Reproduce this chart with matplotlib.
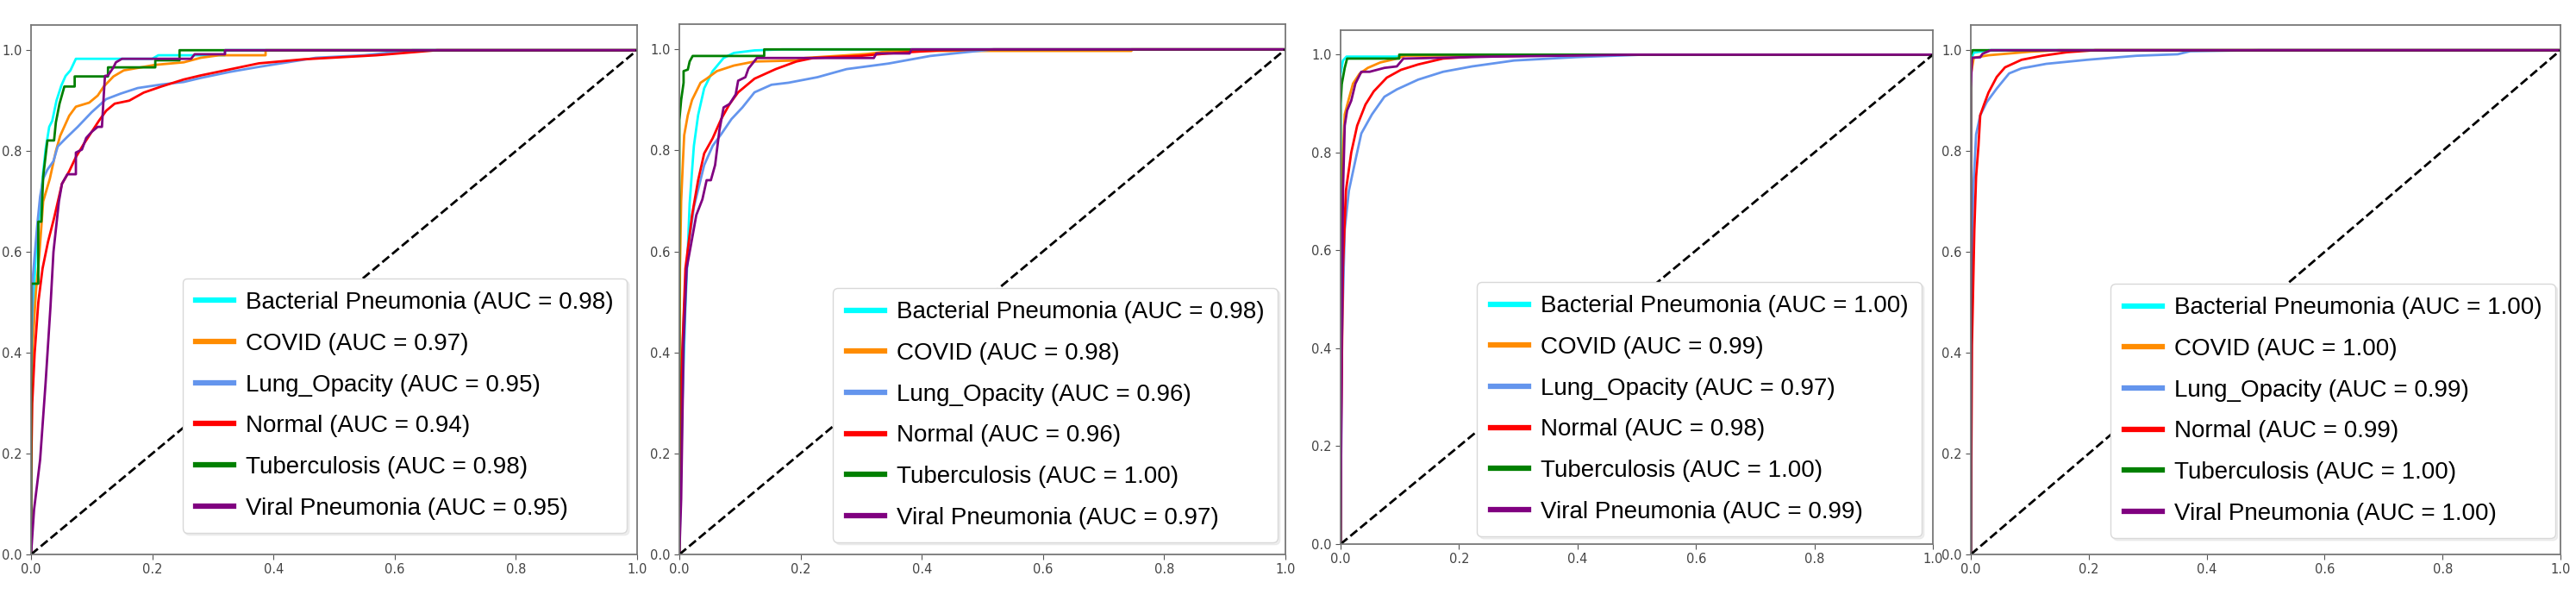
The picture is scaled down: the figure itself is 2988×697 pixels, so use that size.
import matplotlib
matplotlib.use("Agg")
import matplotlib.pyplot as plt
from matplotlib import font_manager

classes = ["Bacterial Pneumonia", "COVID", "Lung_Opacity", "Normal",
           "Tuberculosis", "Viral Pneumonia"]
colors = ["aqua", "darkorange", "cornflowerblue", "red", "green", "purple"]

# AUC per panel
p1_auc = [0.98, 0.97, 0.95, 0.94, 0.98, 0.95]
p2_auc = [0.98, 0.98, 0.96, 0.96, 1.00, 0.97]
p3_auc = [1.00, 0.99, 0.97, 0.98, 1.00, 0.99]
p4_auc = [1.00, 1.00, 0.99, 0.99, 1.00, 1.00]

# ROC points (fpr, tpr)
p1_bact = [(0, 0), (0, 0.3), (0.002, 0.45), (0.008, 0.6), (0.02, 0.757), (0.024, 0.803),
           (0.03, 0.848), (0.035, 0.86), (0.042, 0.9), (0.05, 0.93), (0.057, 0.949),
           (0.065, 0.96), (0.074, 0.983), (0.2, 0.983), (0.21, 0.99), (0.32, 0.99),
           (0.32, 1.0), (1, 1)]
p1_covid = [(0, 0), (0, 0.3), (0.003, 0.42), (0.008, 0.52), (0.014, 0.6), (0.02, 0.7),
            (0.031, 0.745), (0.041, 0.8), (0.048, 0.83), (0.063, 0.87), (0.074, 0.888),
            (0.096, 0.896), (0.11, 0.91), (0.12, 0.928), (0.136, 0.948), (0.153, 0.96),
            (0.205, 0.971), (0.252, 0.976), (0.28, 0.985), (0.31, 0.99), (0.387, 0.99),
            (0.387, 1.0), (1, 1)]
p1_lung = [(0, 0), (0, 0.35), (0.003, 0.55), (0.01, 0.65), (0.015, 0.71), (0.02, 0.745),
           (0.027, 0.763), (0.037, 0.78), (0.044, 0.809), (0.058, 0.826), (0.077, 0.848),
           (0.1, 0.877), (0.124, 0.903), (0.148, 0.914), (0.176, 0.925), (0.215, 0.932),
           (0.252, 0.937), (0.28, 0.945), (0.328, 0.957), (0.376, 0.967), (0.47, 0.985),
           (0.55, 0.99), (0.63, 1.0), (1, 1)]
p1_normal = [(0, 0), (0, 0.15), (0.002, 0.3), (0.006, 0.4), (0.012, 0.5), (0.019, 0.567),
             (0.028, 0.62), (0.038, 0.667), (0.051, 0.735), (0.063, 0.76), (0.074, 0.788),
             (0.087, 0.814), (0.1, 0.838), (0.112, 0.86), (0.124, 0.88), (0.138, 0.894),
             (0.162, 0.9), (0.186, 0.916), (0.215, 0.928), (0.252, 0.942), (0.28, 0.95),
             (0.328, 0.962), (0.376, 0.974), (0.45, 0.982), (0.57, 0.99), (0.67, 1.0), (1, 1)]
p1_tb = [(0, 0), (0, 0.537), (0.012, 0.537), (0.012, 0.66), (0.017, 0.66), (0.02, 0.749),
         (0.027, 0.821), (0.038, 0.821), (0.041, 0.857), (0.047, 0.894), (0.055, 0.928),
         (0.072, 0.928), (0.072, 0.948), (0.127, 0.948), (0.127, 0.966), (0.205, 0.966),
         (0.205, 0.98), (0.245, 0.98), (0.245, 1.0), (1, 1)]
p1_viral = [(0, 0), (0.005, 0.089), (0.015, 0.188), (0.024, 0.34), (0.032, 0.49),
            (0.037, 0.6), (0.046, 0.7), (0.051, 0.735), (0.06, 0.754), (0.074, 0.754),
            (0.074, 0.797), (0.084, 0.803), (0.091, 0.826), (0.1, 0.838), (0.11, 0.848),
            (0.117, 0.848), (0.12, 0.911), (0.122, 0.949), (0.127, 0.95), (0.136, 0.966),
            (0.14, 0.976), (0.15, 0.983), (0.264, 0.983), (0.27, 0.992), (0.32, 0.992),
            (0.32, 1.0), (1, 1)]

p2_bact = [(0, 0), (0.005, 0.3), (0.01, 0.49), (0.014, 0.604), (0.017, 0.695), (0.024, 0.809),
           (0.031, 0.87), (0.041, 0.923), (0.055, 0.957), (0.073, 0.983), (0.09, 0.993),
           (0.124, 0.998), (0.17, 1.0), (1, 1)]
p2_covid = [(0, 0), (0, 0.19), (0.001, 0.566), (0.003, 0.7), (0.006, 0.78), (0.008, 0.83),
            (0.014, 0.87), (0.021, 0.9), (0.035, 0.934), (0.045, 0.942), (0.062, 0.957),
            (0.09, 0.968), (0.124, 0.976), (0.193, 0.978), (0.207, 0.983), (0.31, 0.991),
            (0.35, 0.997), (0.746, 0.997), (0.746, 1.0), (1, 1)]
p2_lung = [(0, 0), (0, 0.11), (0.003, 0.34), (0.008, 0.49), (0.014, 0.6), (0.024, 0.688),
           (0.041, 0.771), (0.055, 0.809), (0.069, 0.832), (0.086, 0.862), (0.104, 0.885),
           (0.124, 0.915), (0.152, 0.93), (0.18, 0.934), (0.228, 0.945), (0.276, 0.961),
           (0.345, 0.972), (0.414, 0.987), (0.477, 0.995), (0.518, 1.0), (1, 1)]
p2_normal = [(0, 0), (0, 0.11), (0.003, 0.34), (0.01, 0.566), (0.021, 0.672), (0.031, 0.741),
             (0.041, 0.794), (0.055, 0.824), (0.069, 0.862), (0.083, 0.892), (0.097, 0.915),
             (0.124, 0.942), (0.159, 0.961), (0.193, 0.976), (0.221, 0.983), (0.297, 0.987),
             (0.345, 0.992), (0.428, 0.998), (0.52, 1.0), (1, 1)]
p2_tb = [(0, 0), (0, 0.86), (0.003, 0.9), (0.007, 0.934), (0.007, 0.957), (0.014, 0.96),
         (0.017, 0.976), (0.022, 0.987), (0.14, 0.987), (0.14, 1.0), (1, 1)]
p2_viral = [(0, 0), (0.003, 0.11), (0.007, 0.415), (0.012, 0.566), (0.019, 0.612),
            (0.028, 0.672), (0.038, 0.703), (0.045, 0.741), (0.052, 0.741), (0.059, 0.771),
            (0.066, 0.839), (0.073, 0.885), (0.083, 0.892), (0.093, 0.911), (0.097, 0.938),
            (0.109, 0.945), (0.114, 0.962), (0.128, 0.983), (0.321, 0.983), (0.325, 0.992),
            (0.38, 0.992), (0.383, 1.0), (1, 1)]

p3_bact = [(0, 0), (0, 0.96), (0.004, 0.988), (0.01, 0.996), (0.1, 0.996), (0.1, 1.0), (1, 1)]
p3_covid = [(0, 0), (0, 0.6), (0.004, 0.8), (0.007, 0.878), (0.014, 0.91), (0.021, 0.941),
            (0.032, 0.961), (0.046, 0.973), (0.067, 0.984), (0.095, 0.992), (0.109, 0.998),
            (0.49, 1.0), (1, 1)]
p3_lung = [(0, 0), (0.002, 0.408), (0.007, 0.643), (0.014, 0.722), (0.025, 0.784),
           (0.035, 0.839), (0.053, 0.878), (0.074, 0.914), (0.095, 0.929), (0.131, 0.949),
           (0.173, 0.965), (0.222, 0.976), (0.293, 0.988), (0.399, 0.995), (0.512, 1.0), (1, 1)]
p3_normal = [(0, 0), (0.001, 0.25), (0.004, 0.565), (0.009, 0.722), (0.018, 0.8),
             (0.028, 0.855), (0.042, 0.898), (0.056, 0.925), (0.078, 0.953), (0.102, 0.969),
             (0.131, 0.98), (0.173, 0.992), (0.222, 0.996), (0.328, 0.998), (0.434, 1.0), (1, 1)]
p3_tb = [(0, 0), (0, 0.9), (0.002, 0.94), (0.007, 0.973), (0.011, 0.992), (0.099, 0.992),
         (0.099, 1.0), (1, 1)]
p3_viral = [(0, 0), (0.002, 0.408), (0.004, 0.72), (0.007, 0.855), (0.011, 0.886),
            (0.018, 0.906), (0.025, 0.941), (0.035, 0.965), (0.049, 0.965), (0.074, 0.973),
            (0.095, 0.976), (0.106, 0.992), (0.258, 0.996), (0.378, 0.998), (0.49, 1.0), (1, 1)]

p4_bact = [(0, 0), (0, 0.98), (0.005, 0.995), (0.03, 1.0), (1, 1)]
p4_covid = [(0, 0), (0, 0.95), (0.005, 0.985), (0.03, 0.99), (0.1, 0.997), (0.15, 1.0), (1, 1)]
p4_lung = [(0, 0), (0.001, 0.491), (0.004, 0.719), (0.009, 0.833), (0.016, 0.871),
           (0.027, 0.897), (0.044, 0.924), (0.065, 0.954), (0.086, 0.964), (0.128, 0.973),
           (0.197, 0.981), (0.281, 0.989), (0.351, 0.992), (0.372, 0.998), (0.49, 1.0), (1, 1)]
p4_normal = [(0, 0), (0.002, 0.415), (0.006, 0.643), (0.009, 0.749), (0.013, 0.81),
             (0.016, 0.871), (0.023, 0.894), (0.03, 0.916), (0.044, 0.947), (0.058, 0.966),
             (0.086, 0.981), (0.121, 0.989), (0.163, 0.996), (0.211, 1.0), (1, 1)]
p4_tb = [(0, 0), (0, 0.99), (0.003, 1.0), (1, 1)]
p4_viral = [(0, 0), (0, 0.924), (0.002, 0.985), (0.016, 0.986), (0.02, 0.993),
            (0.034, 1.0), (1, 1)]

panels = [
    ([p1_bact, p1_covid, p1_lung, p1_normal, p1_tb, p1_viral], p1_auc),
    ([p2_bact, p2_covid, p2_lung, p2_normal, p2_tb, p2_viral], p2_auc),
    ([p3_bact, p3_covid, p3_lung, p3_normal, p3_tb, p3_viral], p3_auc),
    ([p4_bact, p4_covid, p4_lung, p4_normal, p4_tb, p4_viral], p4_auc),
]

# axes boxes in pixels (left, top, right, bottom) and legend anchor (axes coords)
W, H = 2988, 697
boxes = [(36, 29, 739, 643), (788, 28, 1491, 643), (1555, 35, 2242, 631), (2286, 29, 2970, 643)]
anchors = [(0.983, 0.041), (0.987, 0.023), (0.981, 0.015), (0.991, 0.031)]

# narrow-ish font for the legend, whatever is there
names = {f.name for f in font_manager.fontManager.ttflist}
leg_font, leg_size = "DejaVu Sans", 18
for fam, sz in [("Liberation Sans Narrow", 22.5), ("DejaVu Sans Condensed", 19.5),
                ("Liberation Sans", 20), ("Arial", 20)]:
    if fam in names:
        leg_font, leg_size = fam, sz
        break

fig = plt.figure(figsize=(W / 100, H / 100), dpi=100)

for (curves, aucs), (l, t, r, b), anc in zip(panels, boxes, anchors):
    ax = fig.add_axes([l / W, 1 - b / H, (r - l) / W, (b - t) / H])
    for pts, c, name, auc in zip(curves, colors, classes, aucs):
        fpr = [p[0] for p in pts]
        tpr = [p[1] for p in pts]
        ax.plot(fpr, tpr, color=c, lw=2, label="{} (AUC = {:.2f})".format(name, auc))
    ax.plot([0, 1], [0, 1], "k--", lw=2)
    ax.set_xlim(0.0, 1.0)
    ax.set_ylim(0.0, 1.05)
    ax.set_xticks([0, 0.2, 0.4, 0.6, 0.8, 1.0])
    ax.set_yticks([0, 0.2, 0.4, 0.6, 0.8, 1.0])
    ax.tick_params(labelsize=10.5, labelcolor="#444444", color="#555555", length=4)
    for s in ax.spines.values():
        s.set_color("#777777")
        s.set_linewidth(1.3)
    leg = ax.legend(loc="lower right", bbox_to_anchor=anc, borderaxespad=0,
                    prop={"family": leg_font, "size": leg_size}, framealpha=1,
                    edgecolor="#d8d8d8", handlelength=1.6, handletextpad=0.5,
                    labelspacing=0.78, borderpad=0.55, shadow={"color": "0.88"})
    for ln in leg.get_lines():
        ln.set_linewidth(4.5)

plt.savefig("out.png", dpi=100)
